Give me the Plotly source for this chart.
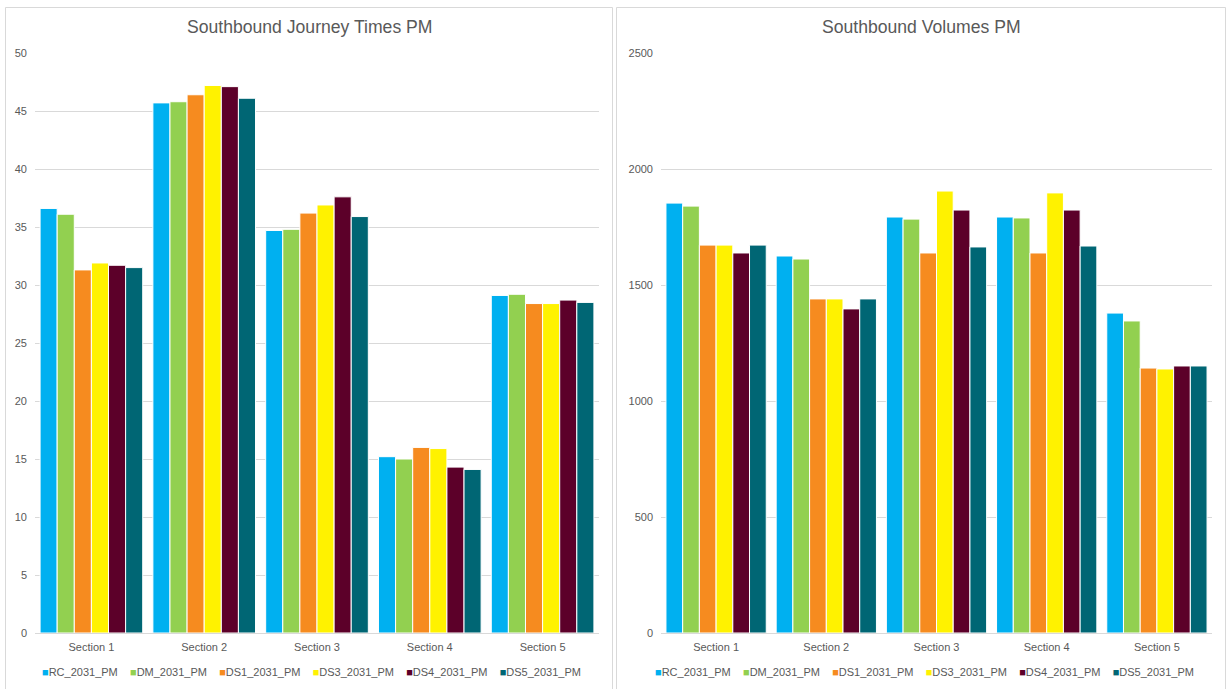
import plotly.graph_objects as go

# Category labels and scenario names
sections = ["Section 1", "Section 2", "Section 3", "Section 4", "Section 5"]
scenarios = ["RC_2031_PM", "DM_2031_PM", "DS1_2031_PM", "DS3_2031_PM", "DS4_2031_PM", "DS5_2031_PM"]
colors = ["#00B0F0", "#92D050", "#F68B1F", "#FFF200", "#5C0029", "#006674"]

# Southbound journey times (PM), one list per scenario
jt_rc = [36.6, 45.7, 34.7, 15.2, 29.1]
jt_dm = [36.1, 45.8, 34.8, 15.0, 29.2]
jt_ds1 = [31.3, 46.4, 36.2, 16.0, 28.4]
jt_ds3 = [31.9, 47.2, 36.9, 15.9, 28.4]
jt_ds4 = [31.7, 47.1, 37.6, 14.3, 28.7]
jt_ds5 = [31.5, 46.1, 35.9, 14.1, 28.5]

# Southbound volumes (PM), one list per scenario
vol_rc = [1853, 1625, 1793, 1793, 1379]
vol_dm = [1840, 1612, 1784, 1789, 1345]
vol_ds1 = [1672, 1440, 1638, 1638, 1142]
vol_ds3 = [1672, 1440, 1905, 1897, 1138]
vol_ds4 = [1638, 1397, 1823, 1823, 1151]
vol_ds5 = [1672, 1440, 1664, 1668, 1151]

jt_series = [jt_rc, jt_dm, jt_ds1, jt_ds3, jt_ds4, jt_ds5]
vol_series = [vol_rc, vol_dm, vol_ds1, vol_ds3, vol_ds4, vol_ds5]

W, H = 1226, 689
FONT = "Liberation Sans, Arial, sans-serif"
TXT = "#595959"
GRID = "#D9D9D9"


def px(x):
    return x / W


def py(y):
    return 1 - y / H


fig = go.Figure()

for name, col, vals in zip(scenarios, colors, jt_series):
    fig.add_trace(go.Bar(
        x=sections, y=vals, name=name, marker=dict(color=col, line=dict(color="white", width=1)),
        xaxis="x", yaxis="y",
    ))

for name, col, vals in zip(scenarios, colors, vol_series):
    fig.add_trace(go.Bar(
        x=sections, y=vals, name=name, marker=dict(color=col, line=dict(color="white", width=1)),
        xaxis="x2", yaxis="y2",
    ))

# Compact one-line key under each chart: coloured square followed by the scenario name
key_text = "&nbsp;&nbsp;&nbsp;&nbsp;".join(
    f"<span style='color:{c}'>■</span>{n}" for n, c in zip(scenarios, colors)
)

tickfont = dict(family=FONT, size=11, color=TXT)
xaxis_common = dict(showline=True, linecolor=GRID, linewidth=1, showgrid=False, ticks="",
                    tickfont=tickfont, ticklabelstandoff=4, automargin=False)
yaxis_common = dict(showline=False, ticks="", tickfont=tickfont, showgrid=True, gridcolor=GRID,
                    gridwidth=1, zeroline=False, ticklabelstandoff=7, automargin=False)

fig.update_layout(
    width=W, height=H,
    margin=dict(l=0, r=0, t=0, b=0, autoexpand=False),
    paper_bgcolor="white", plot_bgcolor="white",
    barmode="group", bargap=0.09, bargroupgap=0.0,
    showlegend=False,
    xaxis=dict(domain=[px(35), px(599)], anchor="y", **xaxis_common),
    yaxis=dict(domain=[py(633), py(53)], anchor="x", range=[0, 50], dtick=5, **yaxis_common),
    xaxis2=dict(domain=[px(661), px(1212)], anchor="y2", **xaxis_common),
    yaxis2=dict(domain=[py(633), py(53)], anchor="x2", range=[0, 2500], dtick=500, **yaxis_common),
    annotations=[
        dict(text="Southbound Journey Times PM", x=px(309), y=py(27), xref="paper", yref="paper",
             showarrow=False, xanchor="center", yanchor="middle",
             font=dict(family=FONT, size=17.6, color=TXT)),
        dict(text="Southbound Volumes PM", x=px(921), y=py(27), xref="paper", yref="paper",
             showarrow=False, xanchor="center", yanchor="middle",
             font=dict(family=FONT, size=17.6, color=TXT)),
        dict(text=key_text, x=px(311), y=py(672), xref="paper", yref="paper",
             showarrow=False, xanchor="center", yanchor="middle",
             font=dict(family=FONT, size=11, color=TXT)),
        dict(text=key_text, x=px(924), y=py(672), xref="paper", yref="paper",
             showarrow=False, xanchor="center", yanchor="middle",
             font=dict(family=FONT, size=11, color=TXT)),
    ],
    shapes=[
        dict(type="rect", xref="paper", yref="paper", x0=px(5.5), x1=px(612.5), y0=py(700), y1=py(7.5),
             line=dict(color=GRID, width=1), fillcolor="rgba(0,0,0,0)", layer="below"),
        dict(type="rect", xref="paper", yref="paper", x0=px(616.5), x1=px(1225.5), y0=py(700), y1=py(7.5),
             line=dict(color=GRID, width=1), fillcolor="rgba(0,0,0,0)", layer="below"),
    ],
)

fig.write_html("out.html")
